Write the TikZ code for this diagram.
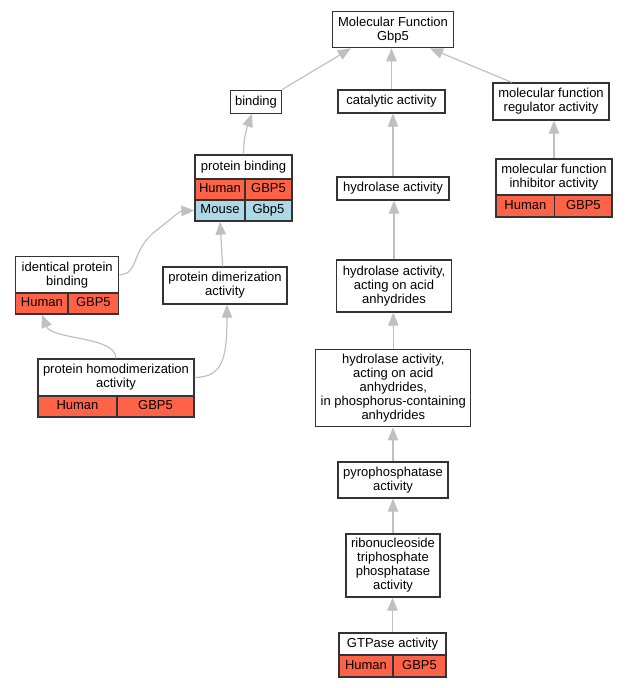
\documentclass[tikz,border=0pt]{standalone}
\usepackage{fontspec}
\setmainfont{Liberation Sans}
\usetikzlibrary{arrows.meta}
\definecolor{tomatoc}{HTML}{FF6347}
\definecolor{lblue}{HTML}{ADD8E6}
\definecolor{edgec}{HTML}{C0C0C0}
\definecolor{bordc}{HTML}{333333}
\tikzset{
  box/.style={draw=bordc, line width=1.3pt, fill=white, align=center, inner sep=0pt,
    font=\fontsize{13}{14}\selectfont},
  single/.style={text height=9.6pt, text depth=2.8pt},
  hcell/.style={box, single, fill=tomatoc},
  mcell/.style={box, single, fill=lblue},
  edge/.style={draw=edgec, line width=1.2pt, -{Triangle[length=13pt,width=10.5pt]}},
}
\begin{document}
\begin{tikzpicture}[x=1pt,y=-1pt]
\useasboundingbox (0,0) rectangle (627,688);
% top
\node[box, minimum width=121pt, minimum height=36pt] (mf) at (393,29.7) {Molecular Function\\Gbp5};
\node[box, single, minimum width=51pt, minimum height=23pt] (bind) at (256,101.7) {binding};
\node[box, single, minimum width=107pt, minimum height=23pt] (cat) at (391.5,101.5) {catalytic activity};
\node[box, minimum width=116pt, minimum height=37pt] (reg) at (551,101.5) {molecular function\\regulator activity};
% inhibitor
\node[box, minimum width=116pt, minimum height=36pt] (inh) at (554,177) {molecular function\\inhibitor activity};
\node[hcell, minimum width=58.7pt, minimum height=22pt] (inhh) at (525.35,206) {Human};
\node[hcell, minimum width=57.3pt, minimum height=22pt] (inhg) at (583.35,206) {GBP5};
% hydrolase chain
\node[box, single, minimum width=112pt, minimum height=23pt] (hyd) at (393,188.5) {hydrolase activity};
\node[box, minimum width=115pt, minimum height=52pt] (haa) at (394,286) {hydrolase activity,\\acting on acid\\anhydrides};
\node[box, minimum width=155pt, minimum height=77pt] (hpc) at (393.3,388.3) {hydrolase activity,\\acting on acid\\anhydrides,\\in phosphorus-containing\\anhydrides};
\node[box, minimum width=110pt, minimum height=36pt] (pyro) at (393,480) {pyrophosphatase\\activity};
\node[box, minimum width=94pt, minimum height=63pt] (ribo) at (393,565.5) {ribonucleoside\\triphosphate\\phosphatase\\activity};
\node[box, single, minimum width=107pt, minimum height=22pt] (gtp) at (392.5,644) {GTPase activity};
\node[hcell, minimum width=54pt, minimum height=22pt] (gtph) at (366,666) {Human};
\node[hcell, minimum width=53pt, minimum height=22pt] (gtpg) at (419.5,666) {GBP5};
% protein binding
\node[box, single, minimum width=97pt, minimum height=24pt] (pb) at (243.5,167) {protein binding};
\node[hcell, minimum width=50pt, minimum height=21pt] (pbh) at (220,189.5) {Human};
\node[hcell, minimum width=47pt, minimum height=21pt] (pbg) at (268.5,189.5) {GBP5};
\node[mcell, minimum width=50pt, minimum height=21pt] (pbm) at (220,210.5) {Mouse};
\node[mcell, minimum width=47pt, minimum height=21pt] (pbmg) at (268.5,210.5) {Gbp5};
% identical protein binding
\node[box, minimum width=103pt, minimum height=36.3pt] (ipb) at (67.2,274.85) {identical protein\\binding};
\node[hcell, minimum width=52.3pt, minimum height=21pt] (ipbh) at (41.85,303.5) {Human};
\node[hcell, minimum width=50.7pt, minimum height=21pt] (ipbg) at (93.35,303.5) {GBP5};
% dimerization
\node[box, minimum width=124pt, minimum height=37pt] (pda) at (225,285.5) {protein dimerization\\activity};
% homodimerization
\node[box, minimum width=156pt, minimum height=37pt] (phd) at (116,377.5) {protein homodimerization\\activity};
\node[hcell, minimum width=79pt, minimum height=21pt] (phdh) at (77.5,406.5) {Human};
\node[hcell, minimum width=77pt, minimum height=21pt] (phdg) at (155.5,406.5) {GBP5};
% edges
\draw[edge] (bind.north east) -- ([xshift=19pt]mf.south west);
\draw[edge] (cat.north) -- (cat.north |- mf.south);
\draw[edge] ([xshift=-39.3pt]reg.north) -- ([xshift=37pt]mf.south);
\draw[edge] (inh.north) -- (inh.north |- reg.south);
\draw[edge] (hyd.north) -- (hyd.north |- cat.south);
\draw[edge] (haa.north) -- (haa.north |- hyd.south);
\draw[edge] (hpc.north) -- (hpc.north |- haa.south);
\draw[edge] (pyro.north) -- (pyro.north |- hpc.south);
\draw[edge] (ribo.north) -- (pyro.south);
\draw[edge] (gtp.north) -- (gtp.north |- ribo.south);
\draw[edge] (pb.north) .. controls (243.5,135) and (248,125) .. ([xshift=-4pt]bind.south);
\draw[edge] (ipb.east) .. controls (140,274) and (130,250) .. (157,230) .. controls (172,218) and (180,211) .. (pbm.west);
\draw[edge] ([xshift=-2.3pt]pda.north) -- (pbm.south);
\draw[edge] (phd.north) .. controls (116,336) and (52,340) .. (ipbh.south);
\draw[edge] (phd.east) .. controls (222,377) and (227,360) .. ([xshift=2pt]pda.south);
\end{tikzpicture}
\end{document}
